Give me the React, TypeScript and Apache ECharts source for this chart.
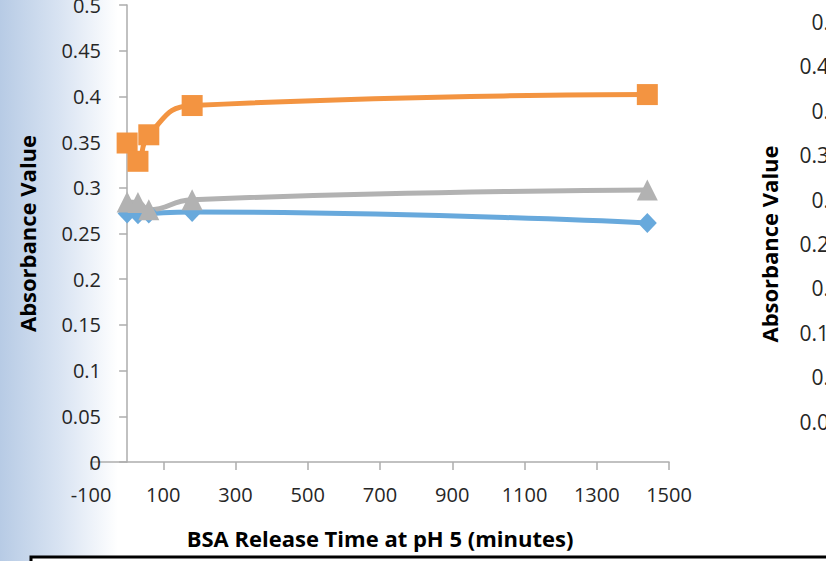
import React, { useEffect, useRef } from "react";
import * as echarts from "echarts";

const timeMinutes = [0, 30, 60, 180, 1440];
const seriesNames = ["Series 1", "Series 2", "Series 3"];
const blueValues = [0.272, 0.271, 0.272, 0.2735, 0.2615];
const orangeValues = [0.349, 0.329, 0.358, 0.39, 0.402];
const grayValues = [0.2845, 0.284, 0.276, 0.287, 0.2976];

const xTitle = "BSA Release Time at pH 5 (minutes)";
const yTitle = "Absorbance Value";

const FONT = "'Open Sans', sans-serif";

export default function App() {
  const ref = useRef<HTMLDivElement>(null);
  useEffect(() => {
    if (!ref.current) return;
    const chart = echarts.init(ref.current, null, { renderer: "svg" });
    const pairs = (vals: number[]) => timeMinutes.map((t, i) => [t, vals[i]]);
    const axisLine = { lineStyle: { color: "#ADADAD", width: 1.5 } };
    const label = {
      color: "#262626",
      fontFamily: FONT,
      fontSize: 20,
      formatter: (v: number) => String(v),
    };
    const titleStyle = { fontFamily: FONT, fontSize: 22, fontWeight: "bold", color: "#000" };
    chart.setOption({
      animation: false,
      backgroundColor: "#ffffff",
      graphic: [
        {
          type: "rect",
          z: -100,
          silent: true,
          shape: { x: 0, y: 0, width: 118, height: 561 },
          style: {
            fill: new echarts.graphic.LinearGradient(0, 0, 1, 0, [
              { offset: 0, color: "#B7CBE5" },
              { offset: 0.5, color: "#D8E3F2" },
              { offset: 1, color: "#FFFFFF" },
            ]),
          },
        },
        {
          type: "rect",
          z: 100,
          silent: true,
          shape: { x: 31, y: 557, width: 900, height: 100 },
          style: { fill: "#ffffff", stroke: "#000000", lineWidth: 3 },
        },
      ],
      grid: [
        { left: 91, right: 157, top: 5, bottom: 99, containLabel: false, outerBoundsMode: "none" },
        { left: 860, width: 100, top: 22, height: 444, containLabel: false, outerBoundsMode: "none" },
      ],
      xAxis: [
        {
          type: "value",
          gridIndex: 0,
          min: -100,
          max: 1500,
          interval: 200,
          axisLine: { show: true, onZero: true, ...axisLine },
          axisTick: { show: true, length: 8, lineStyle: { color: "#ADADAD", width: 1.5 } },
          splitLine: { show: false },
          axisLabel: { ...label, margin: 22 },
          name: xTitle,
          nameLocation: "middle",
          nameGap: 65,
          nameMoveOverlap: false,
          nameTextStyle: titleStyle,
        },
        {
          type: "value",
          gridIndex: 1,
          min: 0,
          max: 1,
          show: false,
        },
      ],
      yAxis: [
        {
          type: "value",
          gridIndex: 0,
          min: 0,
          max: 0.5,
          interval: 0.05,
          axisLine: { show: true, onZero: true, ...axisLine },
          axisTick: { show: true, length: 8, lineStyle: { color: "#ADADAD", width: 1.5 } },
          splitLine: { show: false },
          axisLabel: { ...label, margin: -10 },
          name: yTitle,
          nameLocation: "middle",
          nameGap: 53,
          nameMoveOverlap: false,
          nameTextStyle: titleStyle,
        },
        {
          type: "value",
          gridIndex: 1,
          min: 0,
          max: 0.5,
          interval: 0.05,
          axisLine: { show: false },
          axisTick: { show: false },
          splitLine: { show: false },
          axisLabel: { ...label, fontSize: 21, margin: 19 },
          name: yTitle,
          nameLocation: "middle",
          nameGap: 80,
          nameMoveOverlap: false,
          nameTextStyle: titleStyle,
        },
      ],
      series: [
        {
          name: seriesNames[0],
          type: "line",
          xAxisIndex: 0,
          yAxisIndex: 0,
          data: pairs(blueValues),
          smooth: true,
          symbol: "diamond",
          symbolSize: [19, 20],
          lineStyle: { color: "#68A9DC", width: 5 },
          itemStyle: { color: "#68A9DC" },
        },
        {
          name: seriesNames[1],
          type: "line",
          xAxisIndex: 0,
          yAxisIndex: 0,
          data: pairs(orangeValues),
          smooth: true,
          symbol: "rect",
          symbolSize: 21,
          lineStyle: { color: "#F39441", width: 5 },
          itemStyle: { color: "#F39441" },
        },
        {
          name: seriesNames[2],
          type: "line",
          xAxisIndex: 0,
          yAxisIndex: 0,
          data: pairs(grayValues),
          smooth: true,
          symbol: "triangle",
          symbolSize: [21, 21],
          lineStyle: { color: "#B2B2B2", width: 5 },
          itemStyle: { color: "#B2B2B2" },
        },
      ],
    });
    return () => chart.dispose();
  }, []);
  return (
    <div
      ref={ref}
      style={{ position: "absolute", left: 0, top: 0, width: 826, height: 561 }}
    />
  );
}
